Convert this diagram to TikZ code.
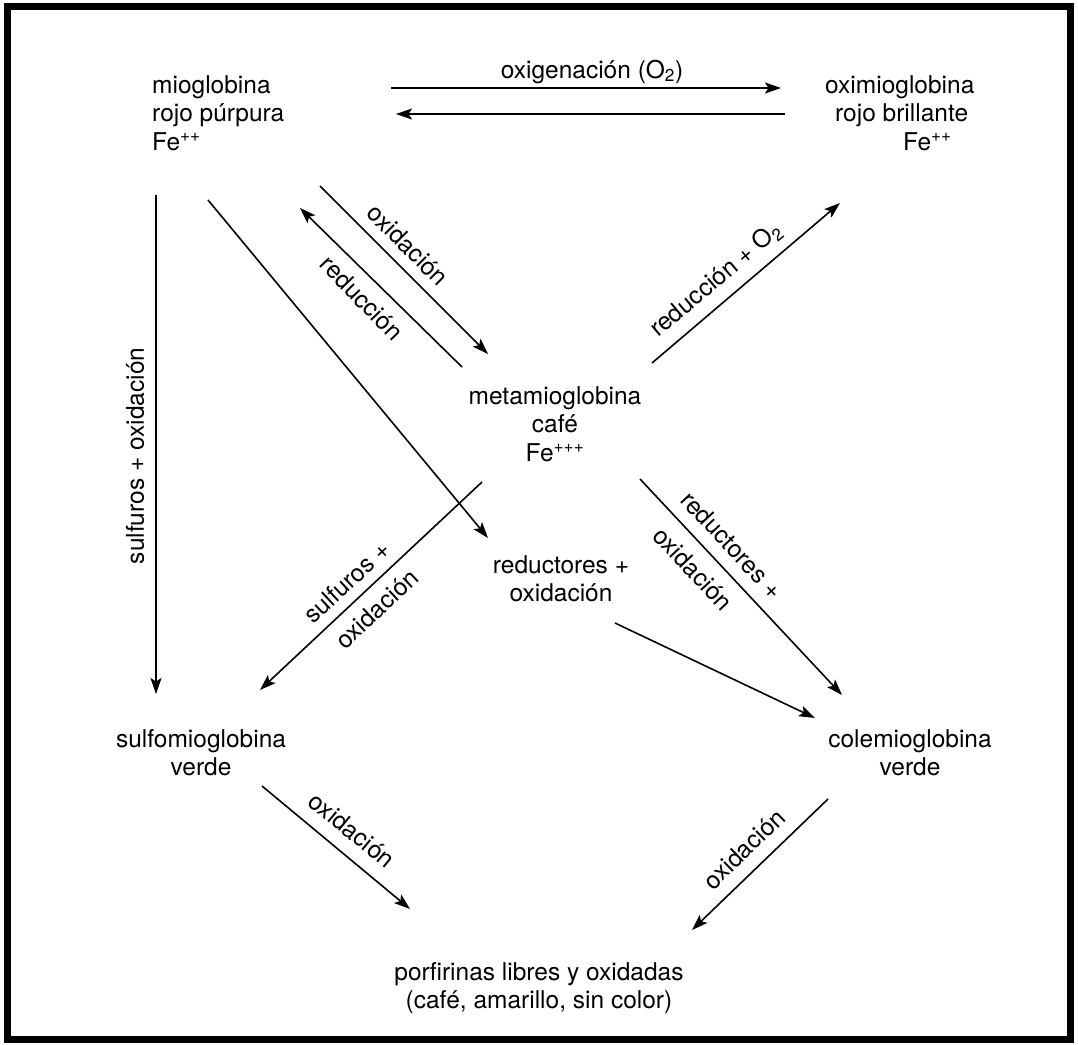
\documentclass[tikz,border=0pt]{standalone}
\usepackage{fontspec}
\setmainfont{TeX Gyre Heros}
\usetikzlibrary{arrows.meta}
\begin{document}
\begin{tikzpicture}[x=1pt,y=-1pt,
  txt/.style={inner sep=0pt, font=\fontsize{24.5}{28.8}\selectfont},
  flow/.style={line width=1.6pt, -{Stealth[length=16pt,width=11pt,inset=3.5pt]}}]
\useasboundingbox (0,0) rectangle (1078,1044);
% outer frame
\draw[line width=7pt] (7.5,6.5) rectangle (1070.5,1039.5);

% compounds
\node[txt, anchor=base west] (mio) at (152,93)
  {\begin{tabular}[t]{@{}l@{}}mioglobina\\rojo púrpura\\Fe\textsuperscript{++}\end{tabular}};
\node[txt, anchor=base west] (oxi) at (825,93)
  {\begin{tabular}[t]{@{}l@{}}oximioglobina\\\hspace*{10pt}rojo brillante\\\hspace*{78pt}Fe\textsuperscript{++}\end{tabular}};
\node[txt, anchor=base] (meta) at (555,404)
  {\begin{tabular}[t]{@{}c@{}}metamioglobina\\café\\Fe\textsuperscript{+++}\end{tabular}};
\node[txt, anchor=base] (redox) at (561,573)
  {\begin{tabular}[t]{@{}c@{}}reductores +\\oxidación\end{tabular}};
\node[txt, anchor=base] (sulfo) at (201,747)
  {\begin{tabular}[t]{@{}c@{}}sulfomioglobina\\verde\end{tabular}};
\node[txt, anchor=base] (cole) at (910,747)
  {\begin{tabular}[t]{@{}c@{}}colemioglobina\\verde\end{tabular}};
\node[txt, anchor=base] (porf) at (539,980)
  {\begin{tabular}[t]{@{}c@{}}porfirinas libres y oxidadas\\(café, amarillo, sin color)\end{tabular}};

% arrow end points
\coordinate (oxgA) at (391,88);   \coordinate (oxgB) at (781,88);
\coordinate (desA) at (785,114);  \coordinate (desB) at (396,114);
\coordinate (vA)   at (156,195);  \coordinate (vB)   at (156,694);
\coordinate (dA)   at (208,200);  \coordinate (dB)   at (488,538);
\coordinate (oA)   at (320,186);  \coordinate (oB)   at (488,354);
\coordinate (rA)   at (462,367);  \coordinate (rB)   at (300,208);
\coordinate (gA)   at (652,363);  \coordinate (gB)   at (840,203);
\coordinate (hA)   at (482,482);  \coordinate (hB)   at (260,690);
\coordinate (iA)   at (640,479);  \coordinate (iB)   at (842,695);
\coordinate (jA)   at (615,623);  \coordinate (jB)   at (815,718);
\coordinate (kA)   at (262,786);  \coordinate (kB)   at (410,909);
\coordinate (lA)   at (828,799);  \coordinate (lB)   at (692,930);

% connectors
\draw[flow] (oxgA) -- (oxgB);
\draw[flow] (desA) -- (desB);
\draw[flow] (vA) -- (vB);
\draw[flow] (dA) -- (dB);
\draw[flow] (oA) -- (oB);
\draw[flow] (rA) -- (rB);
\draw[flow] (gA) -- (gB);
\draw[flow] (hA) -- (hB);
\draw[flow] (iA) -- (iB);
\draw[flow] (jA) -- (jB);
\draw[flow] (kA) -- (kB);
\draw[flow] (lA) -- (lB);

% reaction labels
\node[txt, anchor=base] (lOxg) at (592,78) {oxigenación (O\textsubscript{2})};
\node[txt, rotate=90] (lSulf) at (135,456) {sulfuros + oxidación};
\node[txt, rotate=-45] (lOx1) at (408,245) {oxidación};
\node[txt, rotate=-46] (lRed1) at (362,298) {reducción};
\node[txt, rotate=40] (lRedO) at (716,280) {reducción + O\textsubscript{2}};
\node[txt, rotate=43] (lSulfA) at (347,582) {sulfuros +};
\node[txt, rotate=43] (lSulfB) at (377,609) {oxidación};
\node[txt, rotate=-47] (lRdxA) at (732,545) {reductores +};
\node[txt, rotate=-47] (lRdxB) at (693,569) {oxidación};
\node[txt, rotate=-39.5] (lOx2) at (352,830) {oxidación};
\node[txt, rotate=44] (lOx3) at (744,849) {oxidación};
\end{tikzpicture}
\end{document}
